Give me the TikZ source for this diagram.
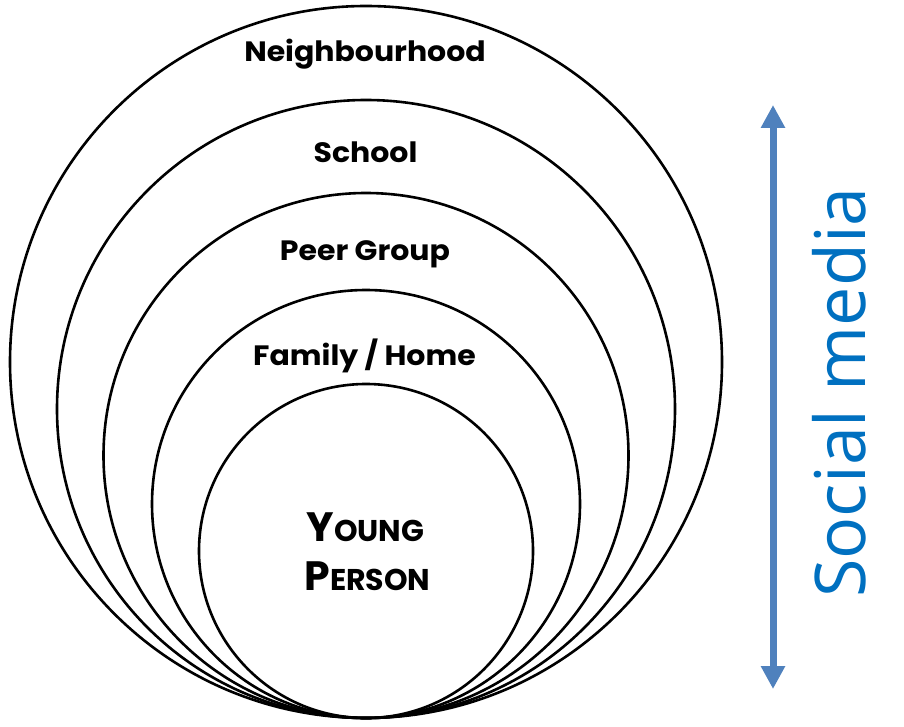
\documentclass[tikz,border=0pt]{standalone}
\usepackage{fontspec}
\usetikzlibrary{arrows.meta}
\newfontfamily\labfont{Poppins}
\newfontfamily\widefont{Poppins}[FakeStretch=1.07]
\newfontfamily\smfont{Open Sans}
\definecolor{arrowblue}{HTML}{4F81BD}
\definecolor{textblue}{HTML}{0070C0}
\begin{document}
\begin{tikzpicture}[x=1pt,y=-1pt,
  ring/.style={draw=black,line width=2.6pt},
  lab/.style={anchor=base,inner sep=0pt,font=\widefont\bfseries\fontsize{28}{28}\selectfont}]
\useasboundingbox[fill=white] (0,0) rectangle (904,727);
% circles, all tangent at the bottom (y=718)
\draw[ring] (366,362) circle[radius=356];
\draw[ring] (366,409) circle[radius=309];
\draw[ring] (366,455.5) circle[radius=262.5];
\draw[ring] (366,504) circle[radius=214];
\draw[ring] (366,551) circle[radius=167];
% labels
\node[lab] (nb) at (365,62) {Neighbourhood};
\node[lab] (sc) at (365.5,163) {School};
\node[lab] (pg) at (365,261) {Peer Group};
\node[lab] (fh) at (364.5,365) {Family / Home};
\node[anchor=base,inner sep=0pt] (yg) at (365.5,541) {\labfont\bfseries\fontsize{41}{41}\selectfont Y\fontsize{30}{30}\selectfont OUNG};
\node[anchor=base,inner sep=0pt] (ps) at (367.5,590) {\labfont\bfseries\fontsize{41}{41}\selectfont P\fontsize{30}{30}\selectfont ERSON};
% social media arrow
\coordinate (atop) at (773,105);
\coordinate (abot) at (773,689);
\draw[arrowblue,line width=7pt,{Triangle[length=23pt,width=23pt]}-{Triangle[length=23pt,width=23pt]}] (atop) -- (abot);
\node[anchor=base,rotate=90,inner sep=0pt,text=textblue,font=\smfont\fontsize{70}{70}\selectfont] (sm) at (865,392.5) {Social media};
\end{tikzpicture}
\end{document}
